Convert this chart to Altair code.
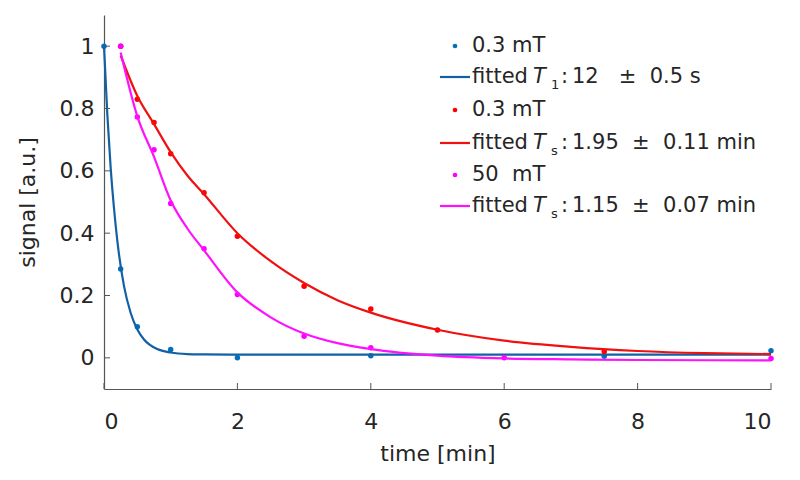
import altair as alt
import pandas as pd

# ---- measured points ----
blue_t = [0, 0.25, 0.5, 1, 2, 4, 7.5, 10]
blue_s = [1.0, 0.285, 0.10, 0.027, 0.0, 0.007, 0.005, 0.023]
red_t = [0.25, 0.5, 0.75, 1, 1.5, 2, 3, 4, 5, 7.5]
red_s = [1.0, 0.83, 0.755, 0.655, 0.53, 0.39, 0.23, 0.157, 0.089, 0.02]
mag_t = [0.25, 0.5, 0.75, 1, 1.5, 2, 3, 4, 6, 10]
mag_s = [1.0, 0.773, 0.668, 0.495, 0.35, 0.203, 0.069, 0.032, 0.0, -0.002]

# ---- fitted curves ----
bfit_t = [0, 0.05, 0.1, 0.15, 0.2, 0.3, 0.4, 0.5, 0.6, 0.8, 1.0, 1.25, 1.5, 2, 4, 6, 8, 10]
bfit_s = [1.0, 0.78, 0.61, 0.48, 0.375, 0.23, 0.144, 0.091, 0.059, 0.028, 0.017, 0.012, 0.011, 0.01, 0.01, 0.01, 0.01, 0.01]
rfit_t = [0.25, 0.5, 0.75, 1, 1.25, 1.5, 2, 2.5, 3, 3.5, 4, 5, 6, 7, 8, 9, 10]
rfit_s = [0.97, 0.84, 0.75, 0.66, 0.585, 0.525, 0.4, 0.31, 0.24, 0.185, 0.145, 0.09, 0.055, 0.035, 0.022, 0.015, 0.012]
mfit_t = [0.25, 0.5, 0.75, 1, 1.25, 1.5, 2, 2.5, 3, 3.5, 4, 5, 6, 7, 8, 10]
mfit_s = [0.98, 0.775, 0.645, 0.505, 0.415, 0.345, 0.21, 0.13, 0.078, 0.047, 0.028, 0.007, -0.002, -0.005, -0.007, -0.008]

series = ["blue", "red", "magenta"]
colors = ["#0072BD", "#FF0000", "#FF00FF"]
line_colors = ["#1260A5", "#F01010", "#FF10FF"]

x_ticks = [0, 2, 4, 6, 8, 10]
y_ticks = [0, 0.2, 0.4, 0.6, 0.8, 1]

pts = pd.concat([
    pd.DataFrame({"t": blue_t, "s": blue_s, "series": "blue"}),
    pd.DataFrame({"t": red_t, "s": red_s, "series": "red"}),
    pd.DataFrame({"t": mag_t, "s": mag_s, "series": "magenta"}),
])
fits = pd.concat([
    pd.DataFrame({"t": bfit_t, "s": bfit_s, "series": "blue"}),
    pd.DataFrame({"t": rfit_t, "s": rfit_s, "series": "red"}),
    pd.DataFrame({"t": mfit_t, "s": mfit_s, "series": "magenta"}),
])

FONT = "DejaVu Sans"
W, H = 667, 374
xs = alt.Scale(domain=[0, 10], nice=False, zero=False)
ys = alt.Scale(domain=[-0.1, 1.1], nice=False, zero=False)

xenc = alt.X("t:Q", scale=xs, axis=alt.Axis(values=x_ticks, title="time [min]", grid=False,
             tickSize=0, labelPadding=22, titlePadding=11, format="~g"))
yenc = alt.Y("s:Q", scale=ys, axis=alt.Axis(values=y_ticks, title="signal [a.u.]", grid=False,
             tickSize=0, labelPadding=10, titlePadding=20, format="~g"))

layers = []
for name, col, lc in zip(series, colors, line_colors):
    layers.append(alt.Chart(pts[pts.series == name]).mark_point(
        filled=True, size=30, color=col, opacity=1).encode(x=xenc, y=yenc))
    layers.append(alt.Chart(fits[fits.series == name]).mark_line(
        color=lc, strokeWidth=2.2, interpolate="monotone").encode(x=xenc, y=yenc))

# inward ticks
xt = alt.Chart(pd.DataFrame({"t": x_ticks})).mark_rule(color="#555", strokeWidth=1).encode(
    x=alt.X("t:Q", scale=xs), y=alt.value(H), y2=alt.value(H - 6))
yt = alt.Chart(pd.DataFrame({"s": y_ticks})).mark_rule(color="#555", strokeWidth=1).encode(
    y=alt.Y("s:Q", scale=ys), x=alt.value(0), x2=alt.value(6))

# legend
leg_labels = ["0.3 mT", "fitted", "0.3 mT", "fitted", "50\u00a0\u00a0mT", "fitted"]
leg_sub = ["1", "s", "s"]
leg_vals = ["12\u00a0\u00a0\u00a0±\u00a0\u00a00.5\u00a0s",
            "1.95\u00a0\u00a0±\u00a0\u00a00.11\u00a0min",
            "1.15\u00a0\u00a0±\u00a0\u00a00.07\u00a0min"]
row_y = [31, 62, 95, 128, 160, 191]
LX = 368
leg = []
one = pd.DataFrame({"a": [0]})
for i in range(3):
    yd = row_y[2 * i]
    yf = row_y[2 * i + 1]
    leg.append(alt.Chart(one).mark_point(filled=True, size=22, color=colors[i], opacity=1)
               .encode(x=alt.value(351), y=alt.value(yd)))
    leg.append(alt.Chart(one).mark_text(align="left", baseline="middle", font=FONT,
               fontSize=21, color="#262626", text=leg_labels[2 * i]).encode(x=alt.value(LX), y=alt.value(yd)))
    leg.append(alt.Chart(one).mark_rule(color=line_colors[i], strokeWidth=2.2)
               .encode(x=alt.value(336), x2=alt.value(366), y=alt.value(yf)))
    leg.append(alt.Chart(one).mark_text(align="left", baseline="middle", font=FONT,
               fontSize=21, color="#262626", text="fitted").encode(x=alt.value(LX), y=alt.value(yf)))
    leg.append(alt.Chart(one).mark_text(align="left", baseline="middle", font=FONT,
               fontSize=21, fontStyle="italic", color="#262626", text="T").encode(x=alt.value(429), y=alt.value(yf)))
    leg.append(alt.Chart(one).mark_text(align="left", baseline="middle", font=FONT,
               fontSize=13, color="#262626", text=leg_sub[i]).encode(x=alt.value(447), y=alt.value(yf + 8)))
    leg.append(alt.Chart(one).mark_text(align="left", baseline="middle", font=FONT,
               fontSize=21, color="#262626", text=":").encode(x=alt.value(457), y=alt.value(yf)))
    leg.append(alt.Chart(one).mark_text(align="left", baseline="middle", font=FONT,
               fontSize=21, color="#262626", text=leg_vals[i]).encode(x=alt.value(468), y=alt.value(yf)))

chart = alt.layer(*layers, xt, yt, *leg).properties(
    width=W, height=H,
    autosize=alt.AutoSizeParams(type="none"),
    padding={"left": 96, "top": 7, "right": 20, "bottom": 80},
).configure_view(stroke=None).configure_axis(
    domainColor="#555", domainWidth=1.2, labelFont=FONT, titleFont=FONT,
    labelFontSize=22, titleFontSize=22, labelColor="#262626", titleColor="#262626",
    titleFontWeight="normal",
)

chart.save("out.html", embed_options={"renderer": "svg", "actions": False})
